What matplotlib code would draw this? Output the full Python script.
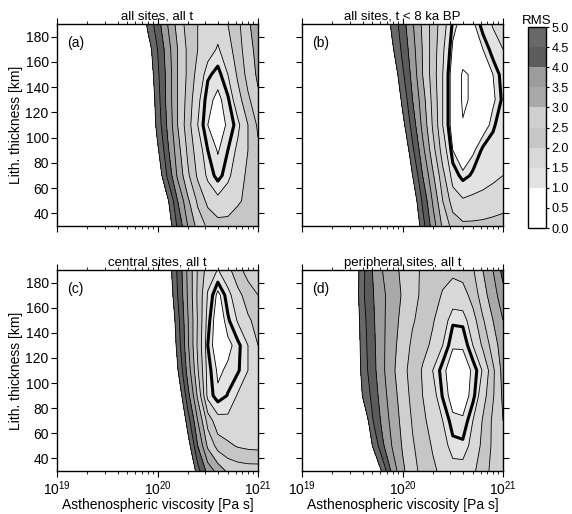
import numpy as np
import matplotlib.pyplot as plt

plt.rcParams['font.family'] = ['Liberation Sans', 'DejaVu Sans']

# grid of the misfit tables: log10 of viscosity (columns) and lithosphere thickness (rows)
log_visc = [19.0, 19.3, 19.5, 19.6, 19.7, 19.8, 19.9, 20.0, 20.1,
            20.2, 20.3, 20.4, 20.5, 20.6, 20.7, 20.8, 20.9, 21.0]
lith = [30, 50, 70, 90, 110, 130, 150, 170, 190]

# RMS values (rows from 30 km to 190 km)
rms_a = [
    [9, 9, 9, 9, 9, 9.0, 7.8, 6.5, 5.4, 4.4, 3.5, 2.8, 2.4, 2.2, 2.15, 2.2, 2.3, 2.4],
    [9, 9, 9, 9, 9, 8.5, 7.2, 6.0, 5.1, 4.0, 3.1, 2.4, 1.85, 1.6, 1.75, 1.95, 2.1, 2.3],
    [9, 9, 9, 9, 9, 8.0, 6.6, 5.4, 4.4, 3.4, 2.6, 1.9, 1.4, 1.15, 1.4, 1.8, 2.1, 2.4],
    [9, 9, 9, 9, 9, 7.6, 6.2, 5.1, 4.1, 3.2, 2.4, 1.7, 1.25, 0.97, 1.25, 1.6, 2.0, 2.4],
    [9, 9, 9, 9, 9, 7.2, 5.8, 4.8, 3.9, 3.0, 2.2, 1.5, 1.0, 0.85, 1.05, 1.4, 2.0, 2.6],
    [9, 9, 9, 9, 9, 7.0, 5.7, 4.7, 3.8, 3.0, 2.3, 1.6, 1.1, 0.9, 1.2, 1.8, 2.4, 2.9],
    [9, 9, 9, 9, 9, 6.8, 5.5, 4.6, 3.8, 3.0, 2.4, 1.8, 1.3, 1.15, 1.5, 2.1, 2.7, 3.1],
    [9, 9, 9, 9, 9, 6.5, 5.3, 4.5, 3.7, 3.0, 2.4, 2.0, 1.7, 1.45, 1.8, 2.3, 2.8, 3.2],
    [9, 9, 9, 9, 9, 6.0, 4.9, 4.2, 3.5, 2.8, 2.3, 2.0, 1.8, 1.7, 2.0, 2.4, 2.9, 3.4],
]
rms_b = [
    [9, 9, 9, 9, 9, 8.8, 7.8, 6.8, 5.7, 4.7, 3.75, 2.9, 2.3, 2.1, 2.1, 2.12, 2.16, 2.2],
    [9, 9, 9, 9, 9, 8.4, 7.4, 6.4, 5.4, 4.4, 3.45, 2.5, 1.75, 1.55, 1.6, 1.65, 1.72, 1.8],
    [9, 9, 9, 9, 9, 7.9, 6.9, 6.0, 5.0, 4.0, 3.1, 2.15, 1.3, 1.05, 1.2, 1.3, 1.4, 1.5],
    [9, 9, 9, 9, 9, 7.5, 6.55, 5.6, 4.6, 3.65, 2.7, 1.75, 1.0, 0.8, 0.95, 1.2, 1.28, 1.35],
    [9, 9, 9, 9, 9, 7.0, 6.1, 5.18, 4.26, 3.35, 2.45, 1.5, 0.8, 0.52, 0.65, 0.85, 1.1, 1.35],
    [9, 9, 9, 9, 9, 6.6, 5.7, 4.87, 4.0, 3.2, 2.35, 1.5, 0.8, 0.45, 0.55, 0.75, 0.95, 1.2],
    [9, 9, 9, 9, 9, 6.2, 5.4, 4.6, 3.8, 3.0, 2.25, 1.5, 0.8, 0.45, 0.55, 0.75, 1.0, 1.25],
    [9, 9, 9, 9, 9, 5.8, 5.07, 4.37, 3.67, 2.97, 2.27, 1.57, 0.95, 0.7, 0.8, 1.0, 1.25, 1.5],
    [9, 9, 9, 9, 9, 5.5, 4.85, 4.2, 3.55, 2.9, 2.3, 1.7, 1.1, 0.85, 0.95, 1.25, 1.55, 1.8],
]
rms_c = [
    [9, 9, 9, 9, 9, 9, 9, 9, 8.5, 7.2, 5.9, 4.7, 3.8, 3.3, 2.9, 2.8, 2.75, 2.75],
    [9, 9, 9, 9, 9, 9, 9, 9, 7.8, 6.6, 5.3, 4.0, 2.9, 2.3, 2.1, 1.95, 1.88, 1.85],
    [9, 9, 9, 9, 9, 9, 9, 8.5, 7.3, 6.0, 4.75, 3.5, 2.3, 1.65, 1.6, 1.62, 1.68, 1.75],
    [9, 9, 9, 9, 9, 9, 9, 8.0, 6.8, 5.5, 4.2, 2.9, 1.35, 1.05, 1.22, 1.55, 1.65, 1.7],
    [9, 9, 9, 9, 9, 9, 8.7, 7.5, 6.3, 5.05, 3.8, 2.55, 1.3, 0.95, 1.05, 1.16, 1.5, 1.75],
    [9, 9, 9, 9, 9, 9, 8.4, 7.2, 6.0, 4.8, 3.6, 2.4, 1.2, 0.75, 0.92, 1.12, 1.5, 2.0],
    [9, 9, 9, 9, 9, 9, 8.0, 6.9, 5.8, 4.67, 3.55, 2.45, 1.3, 0.75, 1.15, 1.55, 1.92, 2.2],
    [9, 9, 9, 9, 9, 9, 7.5, 6.5, 5.5, 4.5, 3.45, 2.4, 1.45, 0.9, 1.35, 1.85, 2.25, 2.5],
    [9, 9, 9, 9, 9, 9, 7.3, 6.3, 5.35, 4.4, 3.4, 2.45, 1.75, 1.48, 1.85, 2.35, 2.7, 2.95],
]
rms_d = [
    [9, 9, 8.5, 7.2, 5.8, 4.9, 3.8, 3.1, 2.65, 2.35, 2.1, 1.85, 1.65, 1.65, 1.9, 2.3, 2.65, 2.85],
    [9, 9, 7.8, 6.3, 5.0, 4.1, 3.45, 2.95, 2.55, 2.25, 1.95, 1.65, 1.35, 1.32, 1.65, 2.15, 2.6, 2.9],
    [9, 8.5, 7.0, 5.6, 4.55, 3.85, 3.3, 2.85, 2.45, 2.1, 1.8, 1.5, 1.1, 1.05, 1.5, 2.05, 2.6, 3.0],
    [9, 8.5, 6.4, 5.0, 4.35, 3.7, 3.2, 2.75, 2.35, 2.0, 1.65, 1.22, 0.8, 0.8, 1.15, 1.8, 2.45, 3.1],
    [9, 8.0, 5.9, 4.8, 4.2, 3.6, 3.1, 2.65, 2.3, 1.95, 1.5, 1.12, 0.7, 0.75, 1.08, 1.55, 2.4, 3.2],
    [9, 8.0, 5.8, 4.75, 4.15, 3.6, 3.15, 2.75, 2.4, 2.15, 1.9, 1.5, 1.05, 1.05, 1.5, 2.1, 2.75, 3.3],
    [9, 8.0, 5.7, 4.7, 4.1, 3.6, 3.2, 2.85, 2.55, 2.3, 2.05, 1.7, 1.3, 1.32, 1.8, 2.45, 3.0, 3.5],
    [9, 8.0, 5.6, 4.6, 4.05, 3.6, 3.25, 2.95, 2.65, 2.4, 2.2, 1.95, 1.75, 1.8, 2.2, 2.8, 3.3, 3.8],
    [9, 8.0, 5.6, 4.65, 4.0, 3.5, 3.15, 2.9, 2.65, 2.42, 2.28, 2.18, 2.12, 2.2, 2.45, 3.0, 3.5, 4.2],
]

titles = ['all sites, all t', 'all sites, t < 8 ka BP',
          'central sites, all t', 'peripheral sites, all t']
tags = ['(a)', '(b)', '(c)', '(d)']
thick_levels = [1.25, 1.15, 1.2, 1.25]
tables = [rms_a, rms_b, rms_c, rms_d]

levels = [0.0, 0.5, 1.0, 1.5, 2.0, 2.5, 3.0, 3.5, 4.0, 4.5, 5.0]
fill_colors = ['white', 'white', '#e3e3e3', '#d8d8d8', '#c6c6c6', '#cfcfcf',
               '#a9a9a9', '#9c9c9c', '#5c5c5c', '#686868']

fig = plt.figure(figsize=(5.72, 5.14), dpi=100)
ax_pos = [
    [0.0997, 0.5603, 0.3514, 0.393],
    [0.528, 0.5603, 0.3514, 0.393],
    [0.0997, 0.0837, 0.3514, 0.391],
    [0.528, 0.0837, 0.3514, 0.391],
]

visc = 10.0 ** np.array(log_visc)
for i in range(4):
    ax = fig.add_axes(ax_pos[i])
    z = np.array(tables[i])
    cf = ax.contourf(visc, lith, z, levels=levels, colors=fill_colors)
    ax.contour(visc, lith, z, levels=levels[1:], colors='k', linewidths=0.6)
    ax.contour(visc, lith, z, levels=[thick_levels[i]], colors='k', linewidths=2.2)

    ax.set_xscale('log')
    ax.set_xlim(1e19, 1e21)
    ax.set_ylim(30, 190)
    ax.set_yticks(range(40, 181, 20))
    ax.tick_params(which='both', direction='out', top=True, right=True,
                   labelsize=10, pad=2)
    ax.tick_params(which='major', length=4, width=0.8)
    ax.tick_params(which='minor', length=2, width=0.6)
    for s in ax.spines.values():
        s.set_linewidth(1.0)
    ax.set_title(titles[i], fontsize=9.5, pad=3)
    ax.text(0.05, 0.94, tags[i], transform=ax.transAxes, va='top', ha='left', fontsize=10)

    if i % 2 == 0:
        ax.set_ylabel('Lith. thickness [km]', fontsize=10, labelpad=2)
    else:
        ax.tick_params(labelleft=False)
    if i < 2:
        ax.tick_params(labelbottom=False)
    else:
        ax.set_xlabel('Asthenospheric viscosity [Pa s]', fontsize=10, labelpad=0)

cax = fig.add_axes([0.923, 0.5564, 0.0315, 0.391])
cb = fig.colorbar(cf, cax=cax, ticks=levels)
cb.ax.yaxis.set_major_formatter('{x:.1f}')
cb.ax.tick_params(direction='out', length=2.5, labelsize=9, pad=1.5)
cb.outline.set_linewidth(1.0)
cb.ax.set_title('RMS', fontsize=9.5, pad=2)

fig.savefig('out.png', dpi=100)
